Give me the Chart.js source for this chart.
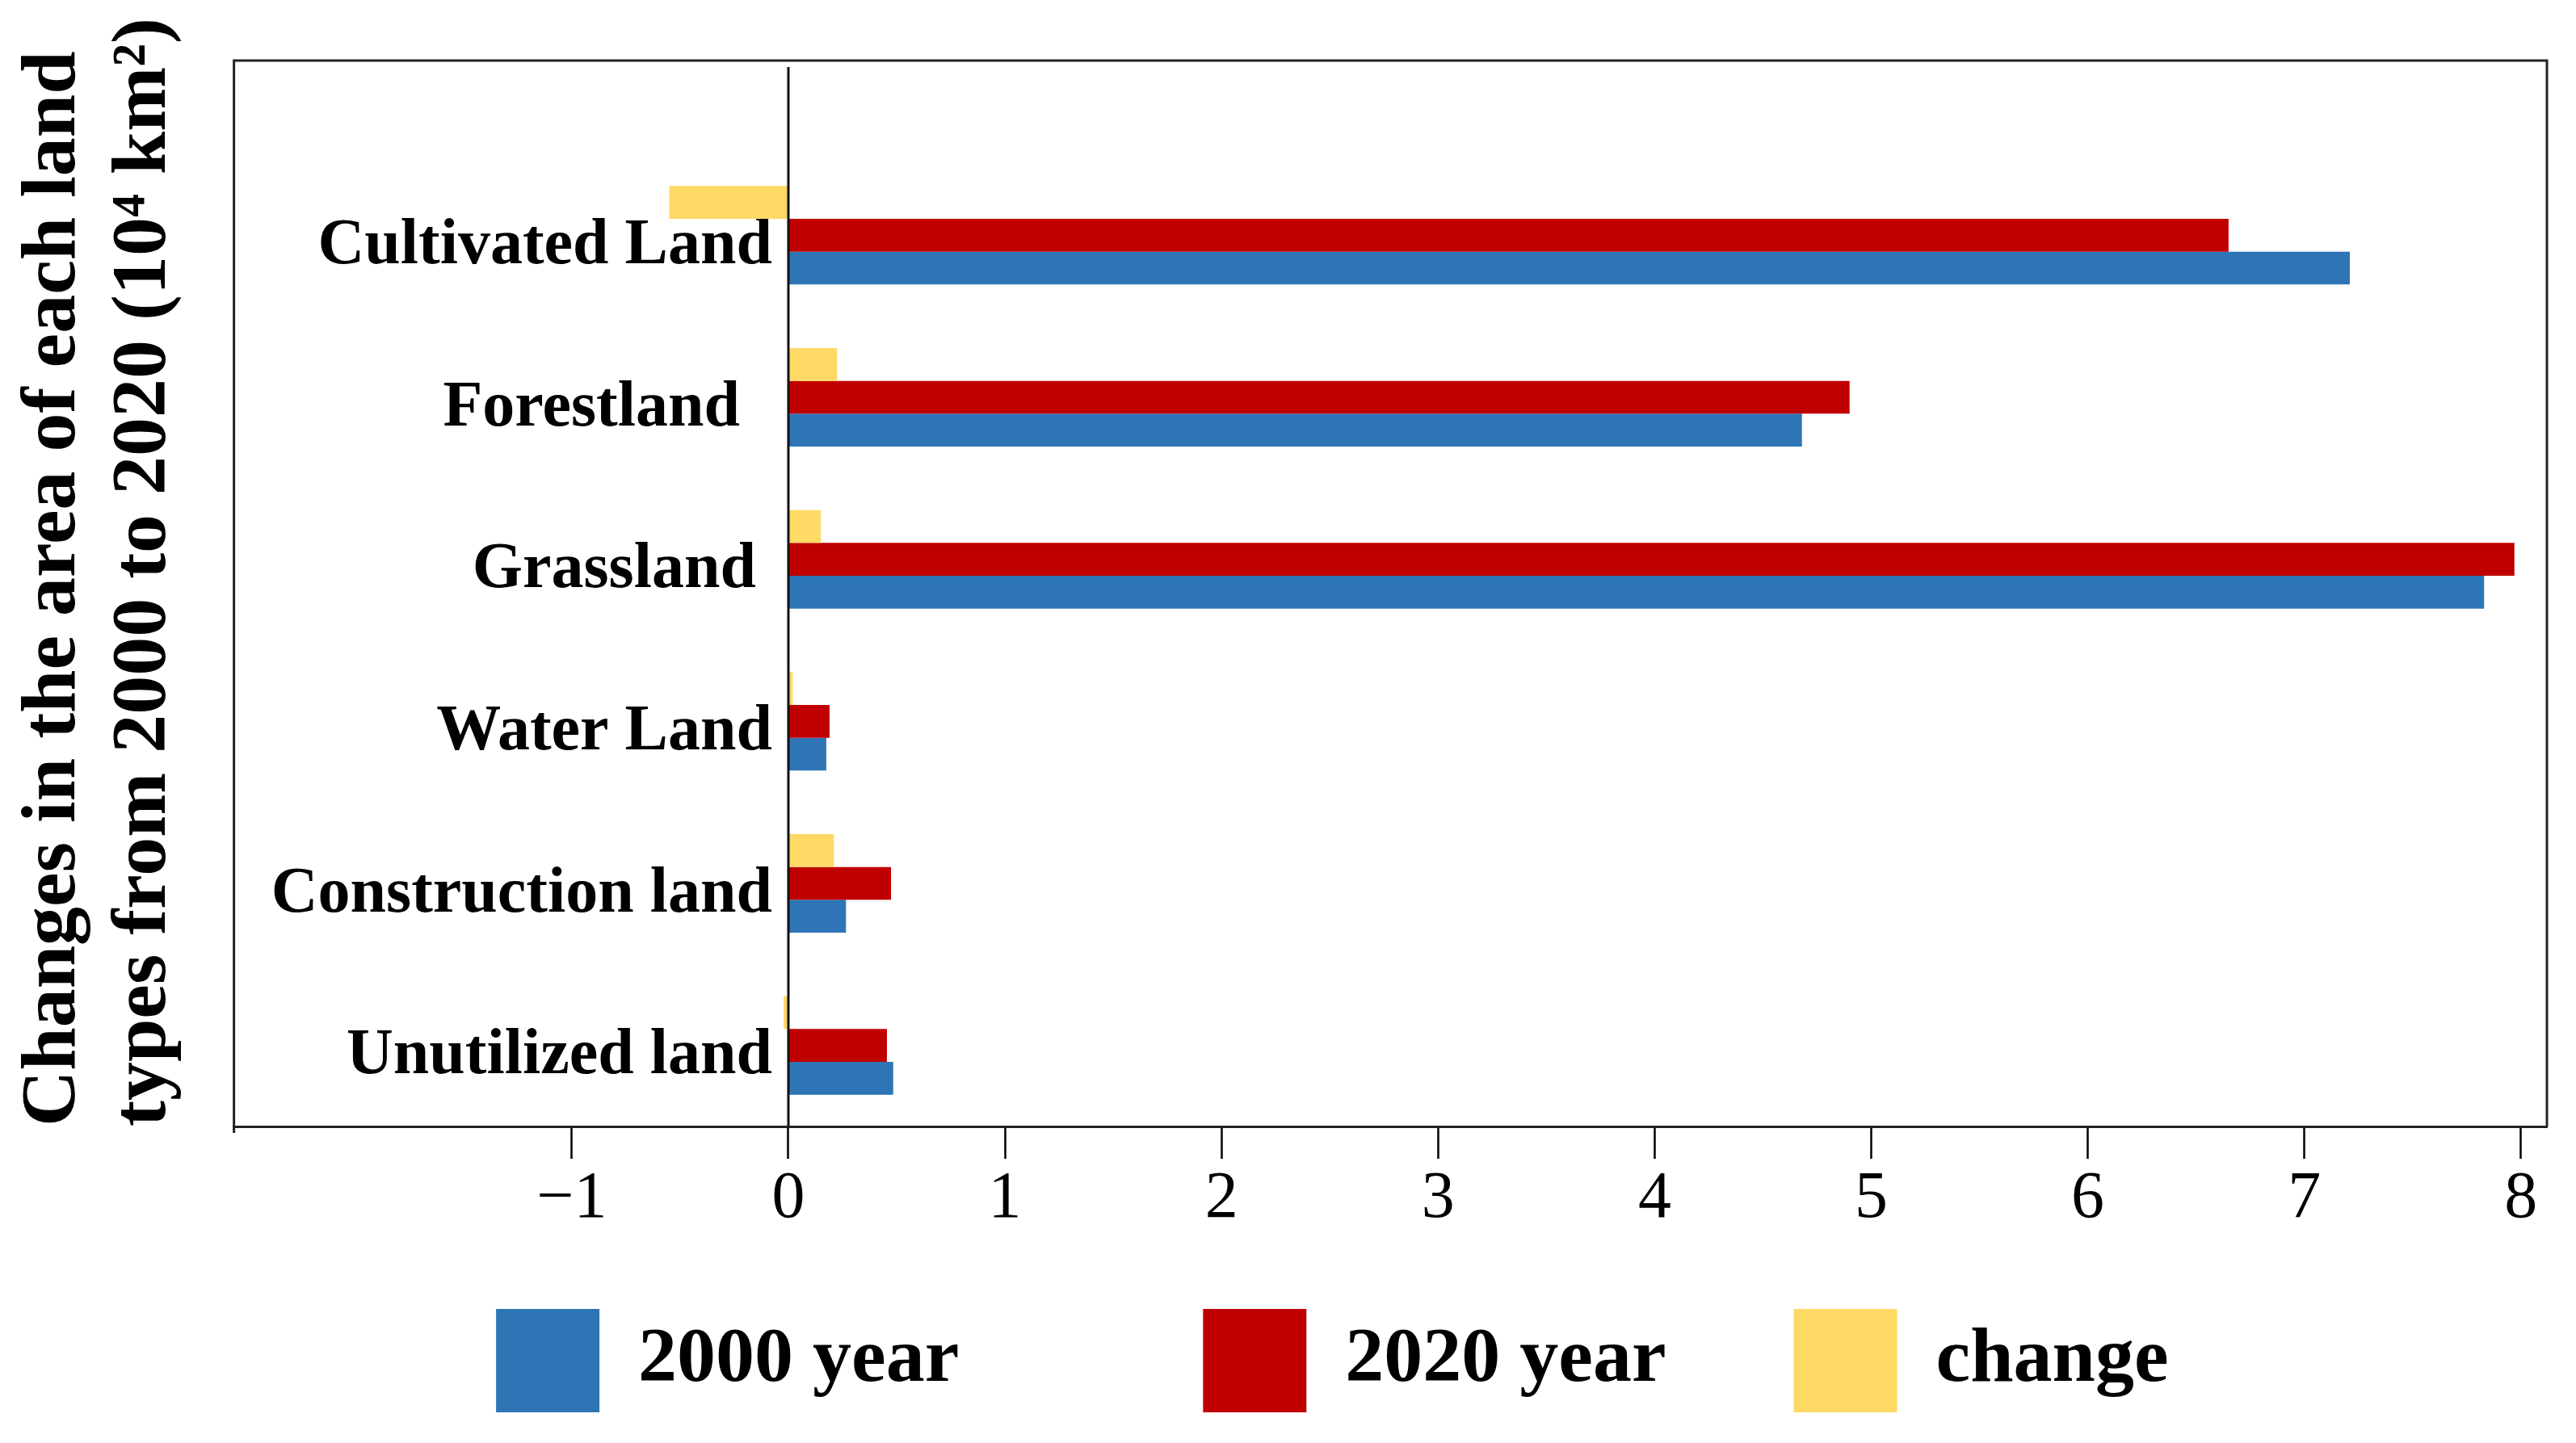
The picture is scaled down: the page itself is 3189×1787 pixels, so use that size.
<!DOCTYPE html>
<html>
<head>
<meta charset="utf-8">
<script src="https://cdn.jsdelivr.net/npm/chart.js@4.4.1/dist/chart.umd.min.js"></script>
<style>
  html, body { margin: 0; padding: 0; background: #ffffff; }
  #wrap { width: 3189px; height: 1787px; position: relative; }
</style>
</head>
<body>
<div id="wrap"><canvas id="c"></canvas></div>
<script>
// ---- data ----
const categories = ['Cultivated Land', 'Forestland', 'Grassland', 'Water Land', 'Construction land', 'Unutilized land'];
const year2000 = [7.21, 4.68, 7.83, 0.175, 0.266, 0.484];
const year2020 = [6.65, 4.90, 7.97, 0.19, 0.474, 0.455];
const change = [-0.55, 0.225, 0.15, 0.02, 0.21, -0.022];
const xTickValues = [-1, 0, 1, 2, 3, 4, 5, 6, 7, 8];
const seriesNames = ['2000 year', '2020 year', 'change'];
const yTitleLines = ['Changes in the area of each land', 'types from 2000 to 2020 (10\u2074 km\u00B2)'];

// ---- layout helpers (styling only) ----
const labelTrail = [0, 2, 1, 0, 0, 0];
const legendTrail = [9, 3, 6];
const FRAME_GAP = 116;

Chart.defaults.font.family = "'Liberation Serif', 'Times New Roman', serif";
Chart.defaults.color = '#000';

const framePlugin = {
  id: 'frame',
  afterDatasetsDraw(chart) {
    const { ctx, chartArea: a, scales } = chart;
    const top = a.top - FRAME_GAP;
    ctx.save();
    ctx.strokeStyle = '#222';
    ctx.lineWidth = 3;
    ctx.beginPath();
    ctx.moveTo(a.left, a.bottom + 8);
    ctx.lineTo(a.left, top);
    ctx.lineTo(a.right, top);
    ctx.lineTo(a.right, a.bottom);
    ctx.stroke();
    const x0 = scales.x.getPixelForValue(0);
    ctx.strokeStyle = '#111';
    ctx.lineWidth = 3;
    ctx.beginPath();
    ctx.moveTo(x0, top + 8);
    ctx.lineTo(x0, a.bottom);
    ctx.stroke();
    ctx.restore();
  }
};

new Chart(document.getElementById('c'), {
  type: 'bar',
  data: {
    labels: categories,
    datasets: [
      { label: seriesNames[2], data: change, backgroundColor: '#FFD966', yAxisID: 'y', xAxisID: 'x' },
      { label: seriesNames[1], data: year2020, backgroundColor: '#C00000', yAxisID: 'y', xAxisID: 'x' },
      { label: seriesNames[0], data: year2000, backgroundColor: '#2E75B6', yAxisID: 'y', xAxisID: 'x' }
    ]
  },
  options: {
    indexAxis: 'y',
    responsive: true,
    maintainAspectRatio: false,
    animation: false,
    events: [],
    datasets: { bar: { barPercentage: 1, categoryPercentage: 0.608, borderWidth: 0 } },
    layout: { padding: { left: 0, right: 36, top: 191, bottom: 28 } },
    scales: {
      x: {
        type: 'linear',
        position: 'bottom',
        min: -2.56,
        max: 8.12,
        afterBuildTicks(scale) { scale.ticks = xTickValues.map(v => ({ value: v })); },
        ticks: {
          autoSkip: false,
          padding: 9,
          color: '#000',
          font: { size: 82, lineHeight: 1 },
          callback: v => (v < 0 ? '\u2212' + Math.abs(v) : String(v))
        },
        grid: { display: true, drawOnChartArea: false, drawTicks: true, tickLength: 40, tickColor: '#000', tickWidth: 2.5 },
        border: { display: true, color: '#222', width: 3 }
      },
      y: {
        type: 'category',
        position: 'left',
        offset: true,
        ticks: { display: false },
        grid: { display: false, drawTicks: false },
        border: { display: false },
        title: {
          display: true,
          text: yTitleLines,
          align: 'start',
          color: '#000',
          font: { size: 96, weight: 'bold', lineHeight: 1.17 },
          padding: { top: 11, bottom: 54 }
        }
      },
      y2: {
        type: 'category',
        axis: 'y',
        position: { x: -0.075 },
        offset: true,
        grid: { display: false, drawTicks: false },
        border: { display: false },
        ticks: {
          padding: 0,
          labelOffset: 14,
          color: '#000',
          font: { size: 80, weight: 'bold' },
          callback(v, i) { return this.getLabelForValue(v) + ' '.repeat(labelTrail[i]); }
        }
      }
    },
    plugins: {
      tooltip: { enabled: false },
      title: { display: false },
      legend: {
        position: 'bottom',
        fullSize: false,
        reverse: true,
        labels: {
          boxWidth: 128,
          boxHeight: 128,
          padding: 86,
          color: '#000',
          font: { size: 96, weight: 'bold' },
          generateLabels(chart) {
            const items = Chart.defaults.plugins.legend.labels.generateLabels(chart);
            items.forEach(it => {
              const k = seriesNames.indexOf(it.text);
              it.text = it.text + ' '.repeat(k >= 0 ? legendTrail[k] : 0);
              it.lineWidth = 0;
            });
            return items;
          }
        }
      }
    }
  },
  plugins: [framePlugin]
});
</script>
</body>
</html>
